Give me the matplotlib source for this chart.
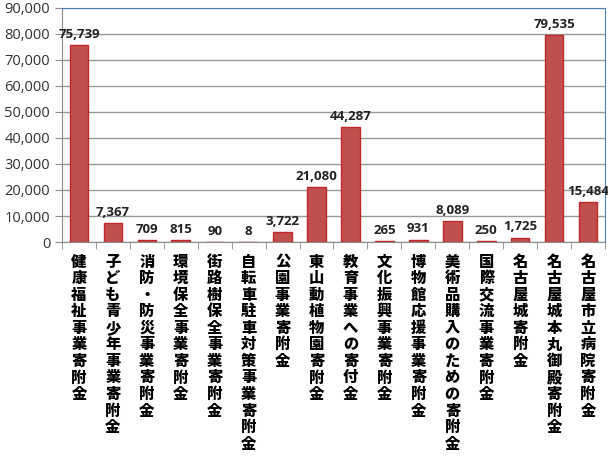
import numpy as np
import matplotlib.pyplot as plt
from matplotlib.ticker import FuncFormatter, MultipleLocator

plt.rcParams['font.family'] = ['Noto Sans CJK JP', 'DejaVu Sans']

# データ
categories = [
    '健康福祉事業寄附金', '子ども青少年事業寄附金', '消防・防災事業寄附金',
    '環境保全事業寄附金', '街路樹保全事業寄附金', '自転車駐車対策事業寄附金',
    '公園事業寄附金', '東山動植物園寄附金', '教育事業への寄付金',
    '文化振興事業寄附金', '博物館応援事業寄附金', '美術品購入のための寄附金',
    '国際交流事業寄附金', '名古屋城寄附金', '名古屋城本丸御殿寄附金',
    '名古屋市立病院寄附金',
]
values = [75739, 7367, 709, 815, 90, 8, 3722, 21080, 44287,
          265, 931, 8089, 250, 1725, 79535, 15484]

fig = plt.figure(figsize=(6.08, 4.61), dpi=100)
ax = fig.add_axes([0.102, 0.475, 0.893, 0.508])

x = np.arange(len(categories))
bars = ax.bar(x, values, width=0.55, color='#C0504D', edgecolor='#C0282C',
              linewidth=1.0, zorder=3)

# 値ラベル
for xi, v in zip(x, values):
    ax.annotate(f'{v:,}', (xi, v), xytext=(0, 3), textcoords='offset points',
                ha='center', va='bottom', fontsize=9.5, fontweight='bold',
                color='#222222', family=['Open Sans', 'DejaVu Sans'])

ax.set_xlim(-0.5, len(categories) - 0.5)
ax.set_ylim(0, 90000)
ax.yaxis.set_major_locator(MultipleLocator(10000))
ax.yaxis.set_major_formatter(FuncFormatter(lambda v, p: f'{int(v):,}'))
ax.grid(axis='y', color='#9a9a9a', linewidth=1.0, zorder=0)

# 縦書きのラベル
ax.set_xticks(x)
ax.set_xticklabels(['\n'.join(c) for c in categories], fontsize=11,
                   fontweight='heavy', va='top', linespacing=1.13,
                   color='black')
ax.tick_params(axis='x', length=0, pad=9)
ax.set_xticks(np.arange(-0.5, len(categories), 1), minor=True)
ax.tick_params(axis='x', which='minor', length=5, color='#8c8c8c')
ax.tick_params(axis='y', length=5, color='#8c8c8c', labelsize=10.5,
               labelcolor='#333333')
for lab in ax.get_yticklabels():
    lab.set_family(['Open Sans', 'DejaVu Sans'])

for side in ['top', 'right']:
    ax.spines[side].set_color('#4F81BD')
ax.spines['left'].set_color('#8c8c8c')
ax.spines['bottom'].set_color('#8c8c8c')

plt.savefig('out.png', dpi=100)
